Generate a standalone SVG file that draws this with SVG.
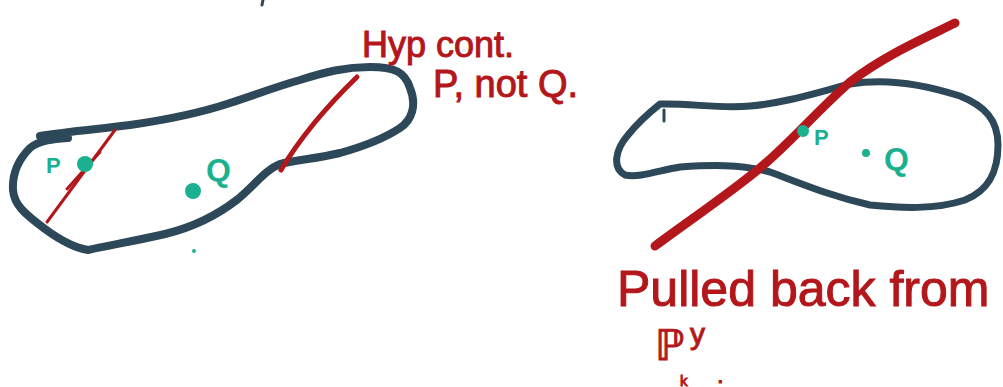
<svg xmlns="http://www.w3.org/2000/svg" width="1003" height="387" viewBox="0 0 1003 387">
<style>
.outline{fill:none;stroke:#2d4858;stroke-linecap:round;stroke-linejoin:round}
.red{fill:none;stroke:#b3171b;stroke-linecap:round;stroke-linejoin:round}
.dot{fill:#1bb08f}
.lbl{fill:#1bb08f;font-family:"Liberation Sans",sans-serif;font-weight:bold}
.note{fill:#b3171b;stroke:#b3171b;stroke-width:1;font-family:"Liberation Sans","DejaVu Sans",sans-serif}
</style>
<rect width="1003" height="387" fill="#ffffff"/>
<g id="top-mark"><path class="outline" stroke-width="3" d="M263,0 L262,5"/></g>
<g id="left-region">
<path class="outline" stroke-width="8" d="M40,136 C70,131 100,129 130,125 C165,120 200,113 230,103 C255,95 275,87 300,80 C325,72 345,67 370,67 C395,67 405,72 410,88 C417,105 412,120 400,128 C385,138 365,146 340,153 C315,159 295,160 280,164 C265,170 255,185 238,199 C215,217 190,228 165,234 C135,241 105,246 88,250 C75,248 60,240 45,229 C25,214 14,205 13,190 C12,172 20,158 30,148 C40,140 55,139 68,138"/>
</g>
<g id="left-red">
<path class="red" stroke-width="3" d="M47,222 L115,130"/>
<path class="red" stroke-width="3" d="M67,189 L100,152"/>
<path class="red" stroke-width="5" d="M281,170 C300,138 325,108 357,77"/>
</g>
<g id="left-P"><circle class="dot" cx="85" cy="164" r="8"/><text class="lbl" x="46" y="173" font-size="22">P</text></g>
<g id="left-Q"><circle class="dot" cx="193" cy="191" r="8"/><text class="lbl" x="206" y="181" font-size="32">Q</text></g>
<g id="left-dot"><circle class="dot" cx="194" cy="251" r="2"/></g>
<g id="note-hyp">
<text class="note" x="362" y="57" font-size="36">Hyp cont.</text>
<text class="note" x="433" y="97" font-size="38">P, not Q.</text>
</g>
<g id="right-region">
<path class="outline" stroke-width="7" d="M660,104 C690,103 720,109 750,106 C785,103 815,93 850,84 C885,78 920,83 960,96 C985,106 998,120 998,145 C998,170 990,190 965,200 C935,210 900,208 870,205 C830,196 800,183 770,172 C740,164 710,165 680,167 C660,170 640,178 625,175 C612,168 615,150 628,135 C640,120 650,112 660,104 Z"/>
<path class="outline" stroke-width="3" d="M664,110 L664,121"/>
</g>
<g id="right-red">
<path class="red" stroke-width="9" d="M655,246 C690,220 730,193 760,168 C790,143 815,113 850,82 C885,55 925,38 955,23"/>
</g>
<g id="right-P"><circle class="dot" cx="803" cy="131" r="6"/><text class="lbl" x="814" y="145" font-size="22">P</text></g>
<g id="right-Q"><circle class="dot" cx="866" cy="153" r="4"/><text class="lbl" x="884" y="170" font-size="32">Q</text></g>
<g id="note-pulled">
<text class="note" x="617" y="306" font-size="50">Pulled back from</text>
<text class="note" x="655" y="360" font-size="42" font-family="DejaVu Sans,sans-serif">ℙ</text>
<text class="note" x="690" y="344" font-size="30">y</text>
<text class="note" x="680" y="386" font-size="15">k</text>
<text class="note" x="717" y="383" font-size="24">.</text>
</g>
</svg>
